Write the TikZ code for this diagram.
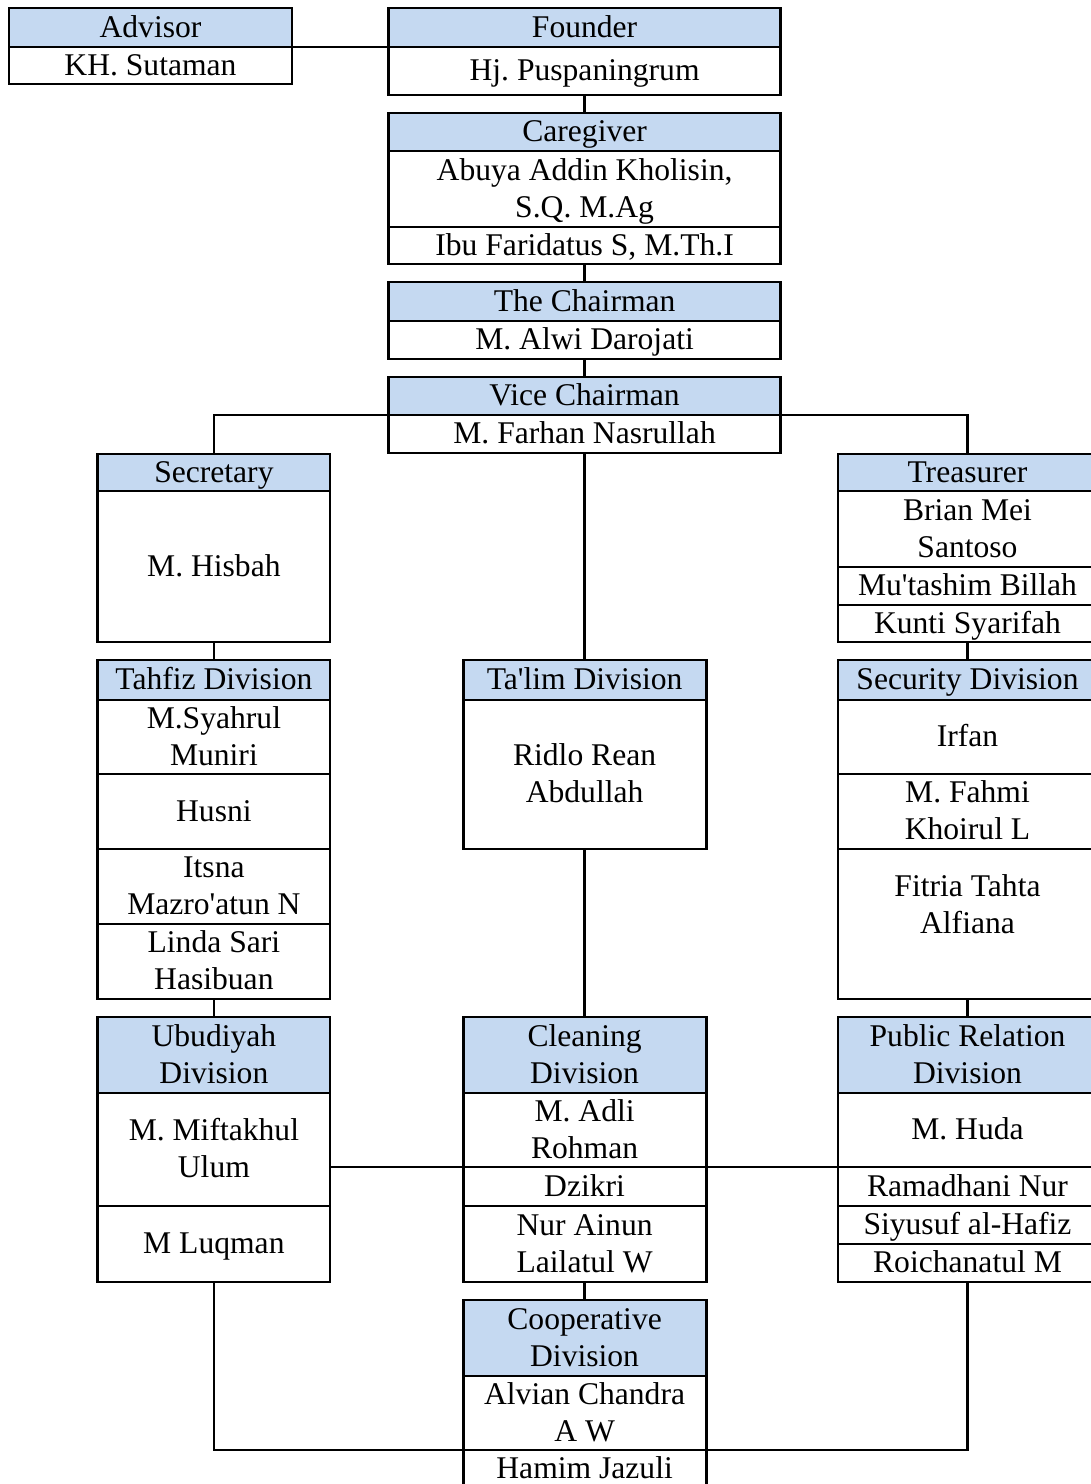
\documentclass[tikz,border=0pt]{standalone}
\usepackage{fontspec}
\setmainfont{Liberation Serif}
\definecolor{headblue}{RGB}{197,217,241}
\newcommand{\rowstrut}{\rule[-9pt]{0pt}{37pt}}
\newcommand{\apos}{\textquotesingle}
\frenchspacing

\tikzset{
    cell/.style = {draw, line width=2.8pt, fill=white, anchor=north,
                   inner sep=0pt, outer sep=0pt, align=center,
                   font=\fontsize{31.6}{37}\selectfont},
    head/.style = {cell, fill=headblue},
    wadv/.style   = {minimum width=283pt},
    wmain/.style  = {minimum width=392.5pt},
    wside/.style  = {minimum width=232.3pt},
    wmid/.style   = {minimum width=243pt},
    wright/.style = {minimum width=259pt},
    link/.style = {line width=2.8pt}
}

\begin{document}
\begin{tikzpicture}[x=1pt, y=-1pt]
    \useasboundingbox (0,0) rectangle (1091,1484);
    \clip (0,0) rectangle (1091,1484);

    % top of the chart
    \node[head, wadv, minimum height=39pt]  (AdvisorH) at (150.5,8)  {\rowstrut Advisor};
    \node[cell, wadv, minimum height=36pt]  (AdvisorN) at (150.5,47) {\rowstrut KH. Sutaman};
    \node[head, wmain, minimum height=39pt] (FounderH) at (584.6,8)  {\rowstrut Founder};
    \node[cell, wmain, minimum height=48pt] (FounderN) at (584.6,47) {\rowstrut Hj. Puspaningrum};

    \node[head, wmain, minimum height=38pt] (CareH)  at (584.6,113) {\rowstrut Caregiver};
    \node[cell, wmain, minimum height=76pt] (CareN1) at (584.6,151) {\rowstrut Abuya Addin Kholisin,\\ S.Q. M.Ag\rowstrut};
    \node[cell, wmain, minimum height=37pt] (CareN2) at (584.6,227) {\rowstrut Ibu Faridatus S, M.Th.I};

    \node[head, wmain, minimum height=39pt] (ChairH) at (584.6,282) {\rowstrut The Chairman};
    \node[cell, wmain, minimum height=38pt] (ChairN) at (584.6,321) {\rowstrut M. Alwi Darojati};

    \node[head, wmain, minimum height=38pt] (ViceH) at (584.6,377) {\rowstrut Vice Chairman};
    \node[cell, wmain, minimum height=38pt] (ViceN) at (584.6,415) {\rowstrut M. Farhan Nasrullah};

    % left column
    \node[head, wside, minimum height=37pt]  (SecH) at (213.9,454) {\rowstrut Secretary};
    \node[cell, wside, minimum height=151pt] (SecN) at (213.9,491) {\rowstrut M. Hisbah};

    \node[head, wside, minimum height=40pt] (TahfizH)  at (213.9,660) {\rowstrut Tahfiz Division};
    \node[cell, wside, minimum height=74pt] (TahfizN1) at (213.9,700) {\rowstrut M.Syahrul\\ Muniri\rowstrut};
    \node[cell, wside, minimum height=75pt] (TahfizN2) at (213.9,774) {\rowstrut Husni};
    \node[cell, wside, minimum height=75pt] (TahfizN3) at (213.9,849) {\rowstrut Itsna\\ Mazro\apos atun N\rowstrut};
    \node[cell, wside, minimum height=75pt] (TahfizN4) at (213.9,924) {\rowstrut Linda Sari\\ Hasibuan\rowstrut};

    \node[head, wside, minimum height=76pt]  (UbuH)  at (213.9,1017) {\rowstrut Ubudiyah\\ Division\rowstrut};
    \node[cell, wside, minimum height=113pt] (UbuN1) at (213.9,1093) {\rowstrut M. Miftakhul\\ Ulum\rowstrut};
    \node[cell, wside, minimum height=76pt]  (UbuN2) at (213.9,1206) {\rowstrut M Luqman};

    % middle column
    \node[head, wmid, minimum height=40pt]  (TalimH) at (584.6,660) {\rowstrut Ta\apos lim Division};
    \node[cell, wmid, minimum height=149pt] (TalimN) at (584.6,700) {\rowstrut Ridlo Rean\\ Abdullah\rowstrut};

    \node[head, wmid, minimum height=76pt] (CleanH)  at (584.6,1017) {\rowstrut Cleaning\\ Division\rowstrut};
    \node[cell, wmid, minimum height=74pt] (CleanN1) at (584.6,1093) {\rowstrut M. Adli\\ Rohman\rowstrut};
    \node[cell, wmid, minimum height=39pt] (CleanN2) at (584.6,1167) {\rowstrut Dzikri};
    \node[cell, wmid, minimum height=76pt] (CleanN3) at (584.6,1206) {\rowstrut Nur Ainun\\ Lailatul W\rowstrut};

    \node[head, wmid, minimum height=76pt] (CoopH)  at (584.6,1300) {\rowstrut Cooperative\\ Division\rowstrut};
    \node[cell, wmid, minimum height=74pt] (CoopN1) at (584.6,1376) {\rowstrut Alvian Chandra\\ A W\rowstrut};
    \node[cell, wmid, minimum height=38pt] (CoopN2) at (584.6,1450) {\rowstrut Hamim Jazuli};

    % right column
    \node[head, wright, minimum height=37pt] (TreasH)  at (967.5,454) {\rowstrut Treasurer};
    \node[cell, wright, minimum height=76pt] (TreasN1) at (967.5,491) {\rowstrut Brian Mei\\ Santoso\rowstrut};
    \node[cell, wright, minimum height=38pt] (TreasN2) at (967.5,567) {\rowstrut Mu\apos tashim Billah};
    \node[cell, wright, minimum height=37pt] (TreasN3) at (967.5,605) {\rowstrut Kunti Syarifah};

    \node[head, wright, minimum height=40pt]  (SecurH)  at (967.5,660) {\rowstrut Security Division};
    \node[cell, wright, minimum height=74pt]  (SecurN1) at (967.5,700) {\rowstrut Irfan};
    \node[cell, wright, minimum height=75pt]  (SecurN2) at (967.5,774) {\rowstrut M. Fahmi\\ Khoirul L\rowstrut};
    \node[cell, wright, minimum height=150pt] (SecurN3) at (967.5,849) {\rowstrut Fitria Tahta\\ Alfiana\\ \mbox{}\rowstrut};

    \node[head, wright, minimum height=76pt] (PublicH)  at (967.5,1017) {\rowstrut Public Relation\\ Division\rowstrut};
    \node[cell, wright, minimum height=74pt] (PublicN1) at (967.5,1093) {\rowstrut M. Huda};
    \node[cell, wright, minimum height=39pt] (PublicN2) at (967.5,1167) {\rowstrut Ramadhani Nur};
    \node[cell, wright, minimum height=38pt] (PublicN3) at (967.5,1206) {\rowstrut Siyusuf al-Hafiz};
    \node[cell, wright, minimum height=38pt] (PublicN4) at (967.5,1244) {\rowstrut Roichanatul M};

    % connectors
    \draw[link] (AdvisorH.south east) -- (FounderH.south west);
    \draw[link] (FounderN.south) -- (CareH.north);
    \draw[link] (CareN2.south) -- (ChairH.north);
    \draw[link] (ChairN.south) -- (ViceH.north);
    \draw[link] (ViceN.south) -- (TalimH.north);
    \draw[link] (ViceN.north west) -| (SecH.north);
    \draw[link] (ViceN.north east) -| (TreasH.north);
    \draw[link] (SecN.south) -- (TahfizH.north);
    \draw[link] (TahfizN4.south) -- (UbuH.north);
    \draw[link] (TreasN3.south) -- (SecurH.north);
    \draw[link] (SecurN3.south) -- (PublicH.north);
    \draw[link] (TalimN.south) -- (CleanH.north);
    \draw[link] (CleanN3.south) -- (CoopH.north);
    \draw[link] (UbuN1.east |- CleanN1.south) -- (CleanN1.south west);
    \draw[link] (CleanN1.south east) -- (PublicN1.south west);
    \draw[link] (UbuN2.south) |- (CoopN1.south west);
    \draw[link] (CoopN1.south east) -| (PublicN4.south);
\end{tikzpicture}
\end{document}
